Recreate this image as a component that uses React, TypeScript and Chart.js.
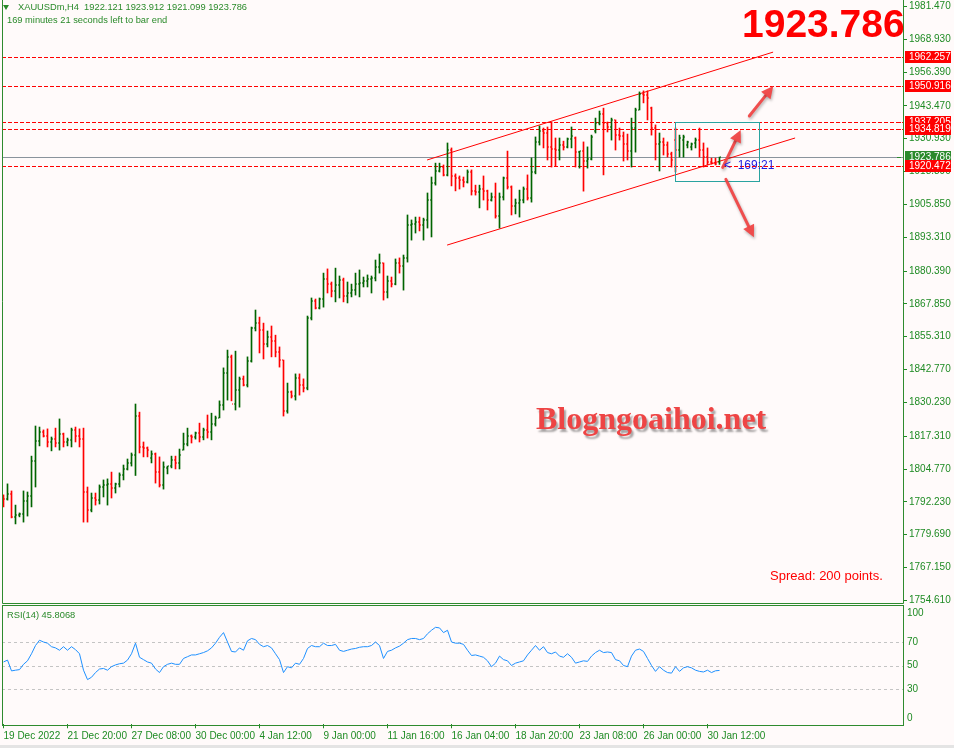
import React, { useEffect, useRef } from "react";
import { Chart, registerables } from "chart.js";

Chart.register(...registerables);

// ---------- data (XAUUSDm H4) ----------
const OPEN = [1794.5,1793.3,1795.2,1786.5,1787.2,1787.6,1792.6,1794.5,1807.8,1815.5,
1818.9,1817.4,1815.1,1816.2,1814.7,1818.1,1815.1,1815.9,1819.7,1817.4,
1816.2,1796.0,1789.1,1793.7,1792.9,1797.9,1798.7,1799.1,1797.5,1799.1,
1802.3,1804.8,1807.1,1810.1,1825.0,1813.2,1812.8,1809.0,1810.5,1803.6,
1798.7,1805.2,1805.9,1808.2,1807.1,1812.0,1814.3,1817.4,1817.0,1818.5,
1817.0,1819.7,1818.9,1822.0,1824.3,1829.2,1841.4,1847.6,1829.6,1835.0,
1839.2,1836.9,1846.0,1858.6,1860.5,1857.9,1852.5,1855.2,1853.7,1849.5,
1846.4,1826.9,1834.2,1832.6,1839.5,1836.9,1835.7,1862.4,1868.9,1866.3,
1869.7,1877.4,1875.4,1872.8,1875.1,1877.0,1870.8,1872.0,1873.1,1875.4,
1875.8,1876.6,1877.4,1877.7,1881.9,1883.5,1872.4,1876.6,1875.4,1883.5,
1882.3,1885.4,1898.0,1898.3,1899.1,1898.0,1899.9,1907.5,1914.0,1918.6,
1920.1,1917.1,1926.6,1916.7,1915.9,1915.2,1914.4,1918.2,1910.9,1910.6,
1911.7,1910.9,1907.5,1908.7,1901.4,1908.7,1915.9,1912.5,1905.2,1906.4,
1907.5,1911.7,1908.3,1918.2,1929.7,1933.9,1933.1,1927.8,1927.0,1926.6,
1928.5,1927.8,1930.8,1931.2,1925.8,1926.2,1922.4,1923.2,1933.9,1936.9,
1940.4,1936.9,1935.4,1938.1,1932.3,1931.9,1928.9,1926.2,1935.0,1941.9,
1948.0,1947.6,1942.6,1935.0,1928.9,1929.7,1928.5,1925.0,1930.4,1926.6,
1930.4,1928.5,1927.8,1929.3,1930.4,1926.6,1923.9,1922.0,1921.6,1922.121];

const HIGH = [1794.9,1799.1,1796.4,1791.0,1788.0,1796.4,1796.0,1809.7,1821.2,1820.8,
1819.7,1820.1,1817.0,1820.4,1823.9,1818.5,1816.6,1820.4,1820.8,1820.1,
1820.4,1797.9,1795.6,1795.6,1798.7,1800.6,1801.0,1803.6,1799.4,1803.3,
1806.3,1808.6,1810.9,1829.6,1826.5,1815.1,1813.2,1811.7,1810.9,1809.4,
1807.5,1805.9,1809.7,1809.7,1812.4,1818.5,1820.4,1817.8,1818.9,1822.3,
1820.4,1825.4,1826.1,1825.0,1830.8,1843.4,1850.2,1848.3,1849.8,1839.9,
1840.3,1847.6,1859.0,1865.5,1862.8,1860.5,1857.5,1859.4,1855.9,1851.4,
1846.4,1837.6,1834.6,1841.1,1841.1,1839.2,1863.2,1870.1,1869.7,1870.1,
1879.6,1881.2,1876.2,1881.5,1878.5,1877.7,1876.2,1875.4,1879.6,1880.8,
1878.1,1878.9,1878.5,1884.6,1886.9,1883.5,1878.5,1878.1,1885.0,1885.4,
1886.5,1901.8,1899.9,1901.0,1901.0,1900.6,1910.2,1916.3,1921.6,1921.6,
1920.9,1929.3,1927.4,1917.5,1916.7,1916.3,1919.0,1919.0,1913.2,1913.2,
1916.7,1911.3,1910.2,1914.0,1910.2,1916.3,1926.2,1912.9,1907.9,1911.3,
1912.5,1917.1,1923.6,1931.6,1935.8,1935.0,1935.4,1937.3,1931.2,1931.2,
1930.0,1931.2,1935.4,1931.6,1926.2,1929.7,1927.8,1932.3,1938.8,1941.5,
1942.6,1937.3,1938.8,1938.1,1935.0,1933.5,1932.7,1938.8,1942.6,1948.8,
1949.2,1949.2,1943.0,1936.2,1933.1,1931.2,1929.7,1925.8,1935.0,1932.3,
1932.3,1930.0,1929.3,1931.2,1935.0,1929.3,1927.4,1923.5,1923.5,1923.912];

const LOW = [1790.3,1792.9,1786.1,1783.8,1786.5,1784.5,1786.8,1790.3,1797.9,1813.6,
1817.0,1813.2,1811.7,1813.2,1812.0,1813.2,1813.6,1813.2,1815.1,1813.2,
1784.5,1784.5,1788.4,1791.0,1791.4,1794.1,1791.0,1793.7,1795.6,1797.9,
1800.6,1804.4,1805.9,1802.3,1810.9,1809.4,1809.4,1807.1,1799.4,1797.9,
1797.1,1802.9,1805.2,1804.8,1804.8,1812.0,1813.6,1814.7,1816.2,1815.1,
1815.9,1816.6,1815.9,1821.2,1824.3,1827.3,1831.1,1830.8,1827.3,1828.4,
1836.5,1836.1,1845.6,1857.5,1849.1,1846.8,1851.4,1847.6,1847.6,1843.7,
1825.0,1826.1,1831.9,1831.1,1833.0,1834.2,1835.0,1861.7,1865.9,1865.9,
1866.6,1872.0,1870.5,1868.6,1870.1,1868.6,1868.2,1870.5,1871.2,1870.5,
1874.3,1874.3,1872.0,1876.6,1879.6,1869.3,1870.1,1874.3,1875.1,1879.6,
1873.1,1883.8,1892.2,1894.9,1895.7,1892.2,1896.8,1893.4,1913.2,1918.2,
1916.7,1916.7,1912.9,1911.0,1911.7,1912.5,1914.0,1909.4,1909.4,1904.5,
1907.5,1903.7,1907.1,1900.6,1896.8,1907.5,1911.7,1901.8,1902.2,1901.0,
1906.4,1907.5,1906.7,1917.5,1928.5,1927.4,1922.8,1920.1,1920.5,1922.8,
1926.6,1927.4,1927.4,1920.1,1919.7,1910.9,1919.7,1922.8,1933.1,1936.2,
1917.1,1933.5,1930.4,1926.6,1930.4,1922.4,1922.8,1920.1,1925.8,1941.9,
1944.6,1938.1,1932.3,1922.8,1918.6,1924.7,1923.9,1920.1,1918.2,1923.9,
1923.9,1927.4,1926.6,1927.4,1923.9,1920.1,1920.9,1921.2,1920.9,1921.099];

const CLOSE = [1793.3,1795.2,1786.5,1787.2,1787.6,1792.6,1794.5,1807.8,1815.5,1818.9,
1817.4,1815.1,1816.2,1814.7,1818.1,1815.1,1815.9,1819.7,1817.4,1816.2,
1796.0,1789.1,1793.7,1792.9,1797.9,1798.7,1799.1,1797.5,1799.1,1802.3,
1804.8,1807.1,1810.1,1825.0,1813.2,1812.8,1812.0,1810.5,1803.6,1798.7,
1805.6,1805.9,1808.2,1807.1,1810.1,1814.3,1817.4,1817.0,1818.5,1817.0,
1819.7,1818.9,1822.0,1824.3,1829.2,1841.4,1847.6,1829.6,1835.0,1839.2,
1836.9,1846.0,1858.6,1860.5,1857.9,1852.5,1855.2,1853.7,1849.5,1846.4,
1826.9,1834.2,1832.6,1839.5,1836.9,1835.7,1862.4,1868.9,1866.3,1869.7,
1877.4,1875.4,1872.8,1875.1,1877.0,1870.8,1872.0,1873.1,1875.4,1875.8,
1876.6,1877.4,1877.7,1881.9,1883.5,1872.4,1876.6,1875.4,1883.5,1882.3,
1885.4,1898.0,1898.3,1899.1,1898.0,1899.9,1907.5,1914.0,1918.6,1920.1,
1917.1,1926.6,1916.7,1915.9,1915.2,1914.4,1918.2,1910.9,1910.6,1911.7,
1910.9,1907.5,1908.7,1901.4,1908.7,1915.9,1912.5,1905.2,1906.4,1907.5,
1911.7,1908.3,1918.2,1929.7,1933.9,1933.1,1927.8,1927.0,1926.6,1928.5,
1927.8,1930.8,1931.9,1925.8,1926.2,1922.4,1923.2,1931.6,1936.9,1940.4,
1936.9,1935.4,1938.1,1932.3,1931.9,1928.9,1926.2,1935.0,1941.9,1948.0,
1947.6,1946.5,1935.0,1928.9,1929.7,1928.5,1925.0,1922.8,1926.6,1931.2,
1931.6,1929.7,1928.9,1930.4,1926.6,1923.9,1922.0,1921.6,1921.3,1923.786];

const RSI_VALUES = [53,54.6,45.4,46,46.5,51,54,60,67,71.5,
70,69,66,65,63,66,63,66,63.5,60,
46,38,40,44,47,47.5,46,49,50.5,51.5,
52,54.6,60,69,57,55,53,52,47,44,
49,51,52,51,51,56,57.5,59,59,60,
61,62.5,65,69,74,78,70,62,61.5,65,
63,71,73,72,68,66,67,65,60,55,
44,49,48,52,51,56,64.5,67,66,66,
69,67,67,68,63,62,63,64,64.5,65.5,
66,66,67,70,67,56,62,63,65,66.5,
69,72,73,73,72,73,77,80,82.5,82,
78,80,70,69,69,68,63,58.5,59,58,
57,54,49,52,58,55,54,50,52,53,
54,59,63,67,63,66,61,60,61.5,58,
57,60,57,52,53,54,53.5,58,61,63,
61,61.5,61,55,54,50,49,58,63,64,
62,56,50,45,49,46,44,43.5,49,45,
48,49,48,46,45,44.5,46,44,45.5,45.8068];

const PRICE_TICKS = [1981.47,1968.93,1956.39,1943.47,1930.93,1918.39,1905.85,1893.31,1880.39,
1867.85,1855.31,1842.77,1830.23,1817.31,1804.77,1792.23,1779.69,1767.15,1754.61];
const RSI_TICKS = [100, 70, 50, 30, 0];
const RSI_LEVELS = [70, 50, 30];
const TIME_LABELS = ["19 Dec 2022","21 Dec 20:00","27 Dec 08:00","30 Dec 00:00","4 Jan 12:00",
"9 Jan 00:00","11 Jan 16:00","16 Jan 04:00","18 Jan 20:00","23 Jan 08:00","26 Jan 00:00","30 Jan 12:00"];
const TIME_LABEL_BARS = [0,16,32,48,64,80,96,112,128,144,160,176];

const LEVEL_LINES = [1962.257, 1950.916, 1937.205, 1934.819, 1920.472];
const LAST_PRICE = 1923.786;
const CHANNEL_UPPER = [{ x: 105.9, y: 1922.8 }, { x: 192.4, y: 1964.0 }];
const CHANNEL_LOWER = [{ x: 110.9, y: 1890.3 }, { x: 197.9, y: 1931.2 }];
const BOX = [{ x: 167.9, y: 1937.3 }, { x: 188.9, y: 1914.8 }];
const ARROWS = [
  [{ x: 179.8, y: 1920.0 }, { x: 184.3, y: 1934.25 }],
  [{ x: 186.45, y: 1939.6 }, { x: 192.45, y: 1951.05 }],
  [{ x: 180.6, y: 1915.4 }, { x: 187.6, y: 1893.3 }],
];

// ---------- view / style ----------
const X_MIN = -0.375;
const X_MAX = 224.875;
const PRICE_MIN = 1753.22;
const PRICE_MAX = 1983.52;
const AXIS_GREEN = "#1f8b24";
const FRAME_GREEN = "#2e8b2e";
const UP = "#006400";
const DOWN = "#ff0000";
const FONT = "'Liberation Sans', Arial, sans-serif";

const barColors = CLOSE.map((c, i) => (c >= OPEN[i] ? UP : DOWN));

function drawArrow(ctx: CanvasRenderingContext2D, x0: number, y0: number, x1: number, y1: number) {
  const ang = Math.atan2(y1 - y0, x1 - x0);
  const hl = 12;
  const hw = 6;
  const bx = x1 - hl * Math.cos(ang);
  const by = y1 - hl * Math.sin(ang);
  ctx.beginPath();
  ctx.moveTo(x0, y0);
  ctx.lineTo(bx, by);
  ctx.stroke();
  ctx.beginPath();
  ctx.moveTo(x1, y1);
  ctx.lineTo(bx + hw * Math.sin(ang), by - hw * Math.cos(ang));
  ctx.lineTo(bx - hw * Math.sin(ang), by + hw * Math.cos(ang));
  ctx.closePath();
  ctx.fill();
}

const mainPlugin = {
  id: "mtMain",
  beforeDatasetsDraw(chart: any) {
    const { ctx, chartArea: a, scales } = chart;
    const x = scales.x;
    const y = scales.y;
    ctx.save();
    ctx.lineWidth = 1;
    ctx.strokeStyle = "#ff0000";
    ctx.setLineDash([4, 2]);
    LEVEL_LINES.forEach((v) => {
      const py = Math.round(y.getPixelForValue(v)) + 0.5;
      ctx.beginPath();
      ctx.moveTo(a.left, py);
      ctx.lineTo(a.right, py);
      ctx.stroke();
    });
    ctx.setLineDash([]);
    ctx.strokeStyle = "#8a939c";
    const lp = Math.round(y.getPixelForValue(LAST_PRICE)) + 0.5;
    ctx.beginPath();
    ctx.moveTo(a.left, lp);
    ctx.lineTo(a.right, lp);
    ctx.stroke();
    ctx.strokeStyle = "#ff0000";
    [CHANNEL_UPPER, CHANNEL_LOWER].forEach((seg) => {
      ctx.beginPath();
      ctx.moveTo(x.getPixelForValue(seg[0].x), y.getPixelForValue(seg[0].y));
      ctx.lineTo(x.getPixelForValue(seg[1].x), y.getPixelForValue(seg[1].y));
      ctx.stroke();
    });
    ctx.restore();
  },
  afterDatasetsDraw(chart: any) {
    const { ctx, scales } = chart;
    const x = scales.x;
    const y = scales.y;
    ctx.save();
    for (let i = 0; i < OPEN.length; i++) {
      const xc = x.getPixelForValue(i);
      ctx.fillStyle = barColors[i];
      ctx.fillRect(xc - 1.5, Math.round(y.getPixelForValue(OPEN[i])) - 0.5, 1, 1);
      ctx.fillRect(xc + 0.5, Math.round(y.getPixelForValue(CLOSE[i])) - 0.5, 1, 1);
    }
    ctx.strokeStyle = "#2aa3a0";
    ctx.lineWidth = 1;
    const rx0 = Math.round(x.getPixelForValue(BOX[0].x)) + 0.5;
    const rx1 = Math.round(x.getPixelForValue(BOX[1].x)) + 0.5;
    const ry0 = Math.round(y.getPixelForValue(BOX[0].y)) + 0.5;
    const ry1 = Math.round(y.getPixelForValue(BOX[1].y)) + 0.5;
    ctx.strokeRect(rx0, ry0, rx1 - rx0, ry1 - ry0);
    ctx.save();
    ctx.strokeStyle = "rgba(240,70,70,0.95)";
    ctx.fillStyle = "rgba(240,70,70,0.95)";
    ctx.lineWidth = 3;
    ctx.lineCap = "round";
    ctx.shadowColor = "rgba(0,0,0,0.3)";
    ctx.shadowBlur = 3;
    ctx.shadowOffsetX = 1;
    ctx.shadowOffsetY = 2;
    ARROWS.forEach((ar) => {
      drawArrow(
        ctx,
        x.getPixelForValue(ar[0].x), y.getPixelForValue(ar[0].y),
        x.getPixelForValue(ar[1].x), y.getPixelForValue(ar[1].y)
      );
    });
    ctx.restore();
    ctx.restore();
  },
  afterDraw(chart: any) {
    const { ctx, chartArea: a, scales } = chart;
    const y = scales.y;
    ctx.save();
    ctx.strokeStyle = FRAME_GREEN;
    ctx.lineWidth = 1;
    ctx.beginPath();
    ctx.moveTo(a.left + 0.5, 0);
    ctx.lineTo(a.left + 0.5, a.bottom - 0.5);
    ctx.lineTo(a.right + 0.5, a.bottom - 0.5);
    ctx.lineTo(a.right + 0.5, 0);
    ctx.stroke();
    ctx.font = `10px ${FONT}`;
    ctx.textBaseline = "middle";
    ctx.textAlign = "left";
    const drawLabel = (v: number, bg: string) => {
      const py = Math.round(y.getPixelForValue(v));
      ctx.fillStyle = bg;
      ctx.fillRect(a.right + 2, py - 6, 46, 12);
      ctx.fillRect(a.right - 6, py, 4, 1);
      ctx.fillStyle = "#ffffff";
      ctx.fillText(v.toFixed(3), a.right + 6, py + 0.5);
    };
    drawLabel(LEVEL_LINES[0], "#ff0000");
    drawLabel(LEVEL_LINES[1], "#ff0000");
    drawLabel(LEVEL_LINES[2], "#ff0000");
    drawLabel(LEVEL_LINES[3], "#ff0000");
    drawLabel(LAST_PRICE, "#2b8a2b");
    drawLabel(LEVEL_LINES[4], "#ff0000");
    ctx.restore();
  },
};

const rsiPlugin = {
  id: "mtRsi",
  beforeDatasetsDraw(chart: any) {
    const { ctx, chartArea: a, scales } = chart;
    const y = scales.y;
    ctx.save();
    ctx.strokeStyle = "#c4c4c4";
    ctx.lineWidth = 1;
    ctx.setLineDash([3, 3]);
    RSI_LEVELS.forEach((v) => {
      const py = Math.round(y.getPixelForValue(v)) + 0.5;
      ctx.beginPath();
      ctx.moveTo(a.left, py);
      ctx.lineTo(a.right, py);
      ctx.stroke();
    });
    ctx.restore();
  },
  afterDraw(chart: any) {
    const { ctx, chartArea: a, scales } = chart;
    const y = scales.y;
    ctx.save();
    ctx.strokeStyle = FRAME_GREEN;
    ctx.lineWidth = 1;
    const top = Math.floor(a.top) - 0.5;
    const bot = Math.ceil(a.bottom) + 0.5;
    ctx.strokeRect(a.left + 0.5, top, a.right - a.left, bot - top);
    ctx.fillStyle = AXIS_GREEN;
    ctx.font = `10px ${FONT}`;
    ctx.textAlign = "left";
    ctx.textBaseline = "middle";
    RSI_TICKS.forEach((v) => {
      let py = y.getPixelForValue(v);
      if (v === 100) py += 6;
      if (v === 0) py -= 6;
      ctx.fillText(String(v), a.right + 4, py);
    });
    ctx.restore();
  },
};

export default function App() {
  const mainRef = useRef<HTMLCanvasElement | null>(null);
  const rsiRef = useRef<HTMLCanvasElement | null>(null);

  useEffect(() => {
    if (!mainRef.current || !rsiRef.current) return;
    const main = new Chart(mainRef.current, {
      type: "bar",
      data: {
        datasets: [
          {
            data: HIGH.map((h, i) => ({ x: i, y: [LOW[i], h] })) as any,
            backgroundColor: barColors,
            barThickness: 1,
            borderWidth: 0,
            grouped: false,
          } as any,
        ],
      },
      options: {
        animation: false,
        responsive: false,
        maintainAspectRatio: false,
        events: [],
        layout: { padding: { left: 2, top: 1, right: 0, bottom: 2 } },
        plugins: { legend: { display: false }, tooltip: { enabled: false } },
        scales: {
          x: {
            type: "linear",
            min: X_MIN,
            max: X_MAX,
            display: false,
            offset: false,
            grid: { offset: false },
          },
          y: {
            type: "linear",
            position: "right",
            min: PRICE_MIN,
            max: PRICE_MAX,
            afterBuildTicks: (s: any) => {
              s.ticks = PRICE_TICKS.map((v) => ({ value: v }));
            },
            afterFit: (s: any) => {
              s.width = 51;
              s.paddingTop = 0;
              s.paddingBottom = 0;
            },
            ticks: {
              autoSkip: false,
              color: AXIS_GREEN,
              font: { family: FONT, size: 10 },
              padding: 2,
              callback: (v: any) => Number(v).toFixed(3),
            },
            grid: { drawOnChartArea: false, drawTicks: true, tickLength: 4, color: AXIS_GREEN },
            border: { display: false },
          },
        },
      } as any,
      plugins: [mainPlugin],
    });

    const rsi = new Chart(rsiRef.current, {
      type: "line",
      data: {
        datasets: [
          {
            data: RSI_VALUES.map((v, i) => ({ x: i, y: v })),
            borderColor: "#1e90ff",
            borderWidth: 1,
            pointRadius: 0,
            tension: 0,
            fill: false,
          },
        ],
      },
      options: {
        animation: false,
        responsive: false,
        maintainAspectRatio: false,
        events: [],
        layout: { padding: { left: 2, top: 6.75, right: 0, bottom: 0 } },
        plugins: { legend: { display: false }, tooltip: { enabled: false } },
        scales: {
          x: {
            type: "linear",
            position: "bottom",
            min: X_MIN,
            max: X_MAX,
            offset: false,
            afterBuildTicks: (s: any) => {
              s.ticks = TIME_LABEL_BARS.map((v) => ({ value: v }));
            },
            afterFit: (s: any) => {
              s.height = 23.75;
              s.paddingLeft = 0;
              s.paddingRight = 0;
            },
            ticks: {
              autoSkip: false,
              maxRotation: 0,
              minRotation: 0,
              align: "start",
              color: AXIS_GREEN,
              font: { family: FONT, size: 10 },
              padding: 2,
              callback: (v: any) => {
                const k = TIME_LABEL_BARS.indexOf(Number(v));
                return k >= 0 ? TIME_LABELS[k] : "";
              },
            },
            grid: { drawOnChartArea: false, drawTicks: true, tickLength: 4, color: AXIS_GREEN },
            border: { display: false },
          },
          y: {
            type: "linear",
            position: "right",
            min: 0,
            max: 100,
            afterFit: (s: any) => {
              s.width = 51;
              s.paddingTop = 0;
              s.paddingBottom = 0;
            },
            ticks: { display: false },
            grid: { display: false },
            border: { display: false },
          },
        },
      } as any,
      plugins: [rsiPlugin],
    });

    return () => {
      main.destroy();
      rsi.destroy();
    };
  }, []);

  const txt = (extra: React.CSSProperties): React.CSSProperties => ({
    position: "absolute",
    whiteSpace: "pre",
    fontFamily: FONT,
    margin: 0,
    ...extra,
  });

  return (
    <div
      style={{
        position: "absolute",
        left: 0,
        top: 0,
        width: 954,
        height: 748,
        background: "#fffafa",
        overflow: "hidden",
      }}
    >
      <canvas
        ref={mainRef}
        width={954}
        height={606}
        style={{ position: "absolute", left: 0, top: 0, width: 954, height: 606 }}
      />
      <canvas
        ref={rsiRef}
        width={954}
        height={148}
        style={{ position: "absolute", left: 0, top: 600, width: 954, height: 148 }}
      />
      <div
        style={{
          position: "absolute",
          left: 3,
          top: 5,
          width: 0,
          height: 0,
          borderLeft: "3.5px solid transparent",
          borderRight: "3.5px solid transparent",
          borderTop: "5px solid #2a8a2a",
        }}
      />
      <div style={txt({ left: 18, top: 2.8, fontSize: 9.3, lineHeight: "9.3px", color: "#2a8a2a" })}>
        {"XAUUSDm,H4  1922.121 1923.912 1921.099 1923.786"}
      </div>
      <div style={txt({ left: 7, top: 16, fontSize: 9.3, lineHeight: "9.3px", color: "#2a8a2a" })}>
        169 minutes 21 seconds left to bar end
      </div>
      <div style={txt({ left: 742, top: 4, fontSize: 39, lineHeight: "39px", fontWeight: 700, color: "#ff0000" })}>
        1923.786
      </div>
      <div style={txt({ left: 724, top: 159, fontSize: 12, lineHeight: "12px", color: "#1c1ce0" })}>
        {"<  169:21"}
      </div>
      <div
        style={txt({
          left: 536,
          top: 402,
          fontSize: 32,
          lineHeight: "32px",
          fontWeight: 700,
          fontFamily: "'Liberation Serif', 'Times New Roman', serif",
          color: "#ee4444",
          textShadow: "2px 3px 2px rgba(0,0,0,0.35)",
        })}
      >
        Blogngoaihoi.net
      </div>
      <div style={txt({ left: 770, top: 569, fontSize: 13, lineHeight: "13px", color: "#ff0000" })}>
        Spread: 200 points.
      </div>
      <div style={txt({ left: 7, top: 610.6, fontSize: 9.3, lineHeight: "9.3px", color: "#2a8a2a" })}>
        RSI(14) 45.8068
      </div>
      <div style={{ position: "absolute", left: 0, top: 745, width: 954, height: 3, background: "#e4e4e4" }} />
    </div>
  );
}
